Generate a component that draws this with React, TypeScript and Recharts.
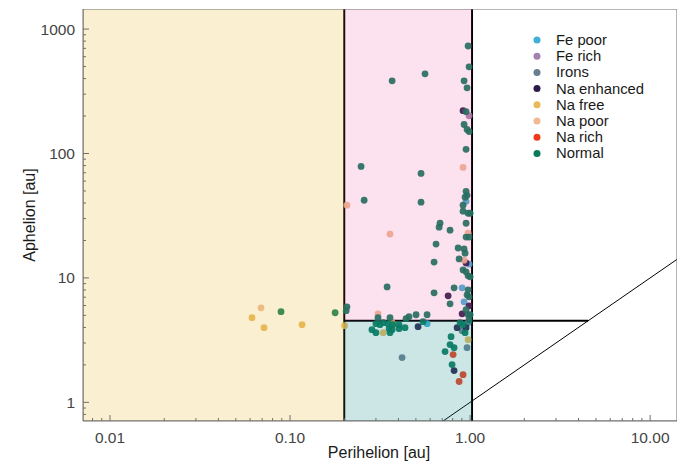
import React from 'react';
import { ScatterChart, Scatter, XAxis, YAxis, ReferenceArea, ReferenceLine, Legend } from 'recharts';

const categories = ['Fe poor', 'Fe rich', 'Irons', 'Na enhanced', 'Na free', 'Na poor', 'Na rich', 'Normal'];
const colors = ['#3fb0d6', '#a381ad', '#687d90', '#2a1b48', '#e8b85a', '#efb994', '#ee3a1c', '#0a7a5c'];

// [perihelion q, aphelion Q] in au
const fePoor = [[0.903, 8.32], [0.95, 41.3], [0.987, 12.9], [0.926, 6.43], [0.577, 4.29]];
const feRich = [[0.987, 201]];
const irons = [[0.975, 4.37], [0.903, 3.77], [0.962, 2.75], [0.419, 2.29]];
const naEnhanced = [[0.914, 221], [0.755, 7.18], [0.95, 13.2], [0.903, 5.15], [0.987, 5.97], [0.847, 3.98], [0.95, 3.98], [0.514, 4.06], [0.815, 1.8]];
const naFree = [[0.0615, 4.79], [0.0717, 3.98], [0.1166, 4.21], [0.201, 4.13], [0.369, 4.37], [0.329, 3.63], [0.975, 3.19]];
const naPoor = [[0.069, 5.75], [0.207, 38.4], [0.359, 22.5], [0.914, 77.3], [0.975, 22.9], [0.926, 13.9], [0.308, 5.15]];
const naRich = [[0.805, 2.42], [0.914, 1.67], [0.869, 1.47]];
const normal = [
  [0.0891, 5.35], [0.178, 5.25],
  [0.975, 731], [0.987, 497], [0.369, 384], [0.562, 437], [0.926, 384], [0.962, 337],
  [0.95, 217], [0.926, 171], [0.962, 156], [0.987, 150], [0.95, 108],
  [0.248, 78.7], [0.534, 69.2], [0.258, 42.1], [0.534, 40.6],
  [0.95, 49.7], [0.962, 46.1], [0.938, 44.5], [0.914, 38.4], [0.914, 34.4], [0.975, 33.1], [1.0, 33.1],
  [0.681, 27.5], [0.673, 25.6], [0.774, 24.2], [0.95, 27.5], [0.95, 21.3], [0.987, 21.3],
  [0.647, 18.7], [0.858, 17.4], [0.926, 17.1], [0.938, 15.8], [0.631, 13.4], [0.869, 14.2],
  [0.914, 11.6], [0.95, 11.2], [0.975, 10.4], [1.0, 10.2],
  [0.346, 8.47], [0.815, 8.32], [0.975, 8.02], [0.631, 7.59], [0.962, 7.31], [0.987, 7.05],
  [0.774, 6.19], [0.95, 5.55], [1.0, 5.06], [0.975, 5.06], [0.987, 4.6],
  [0.207, 5.86], [0.205, 5.45], [0.308, 4.79], [0.359, 4.79], [0.458, 4.88], [0.441, 4.7],
  [0.501, 5.06], [0.577, 5.06], [0.548, 4.45],
  [0.3, 4.29], [0.316, 4.21], [0.329, 4.37], [0.35, 4.29], [0.373, 4.21], [0.285, 3.84], [0.3, 3.63],
  [0.355, 3.91], [0.369, 3.84], [0.359, 3.63], [0.403, 3.91], [0.403, 4.21], [0.435, 3.98],
  [0.88, 4.37], [0.914, 4.21], [0.938, 3.63], [0.784, 3.37], [0.774, 2.91], [0.815, 2.75],
  [0.726, 2.56], [0.794, 2.01],
];
const seriesValues = [fePoor, feRich, irons, naEnhanced, naFree, naPoor, naRich, normal];

const xMajor = [0.01, 0.1, 1, 10];
const xMinor = [0.008, 0.009, 0.02, 0.03, 0.04, 0.05, 0.06, 0.07, 0.08, 0.09, 0.2, 0.3, 0.4, 0.5, 0.6, 0.7, 0.8, 0.9, 2, 3, 4, 5, 6, 7, 8, 9];
const xTickLabels = ['0.01', '0.10', '1.00', '10.00'];
const yMajor = [1, 10, 100, 1000];
const yMinor = [0.8, 0.9, 2, 3, 4, 5, 6, 7, 8, 9, 20, 30, 40, 50, 60, 70, 80, 90, 200, 300, 400, 500, 600, 700, 800, 900];
const yTickLabels = ['1', '10', '100', '1000'];

const X_DOMAIN = [0.00708, 14.1];
const Y_DOMAIN = [0.708, 1450];
const Q_MIN = 0.2;
const Q_EARTH = 1.025;
const Q_JUP = 4.53;

const FONT = '"Liberation Sans", Arial, sans-serif';
const AXIS_COLOR = '#6e6e6e';

const XTick = (props: any) => {
  const { x, y, payload } = props;
  const v = payload.value;
  const mi = xMajor.indexOf(v);
  const major = mi >= 0;
  return (
    <g>
      <line x1={x} x2={x} y1={y} y2={y - (major ? 6 : 3)} stroke={AXIS_COLOR} strokeWidth={1} />
      {major && (
        <text x={x} y={y + 22} textAnchor="middle" fontSize={15.5} fill="#444" fontFamily={FONT}>
          {xTickLabels[mi]}
        </text>
      )}
    </g>
  );
};

const YTick = (props: any) => {
  const { x, y, payload } = props;
  const v = payload.value;
  const mi = yMajor.indexOf(v);
  const major = mi >= 0;
  return (
    <g>
      <line x1={x} x2={x + (major ? 6 : 3)} y1={y} y2={y} stroke={AXIS_COLOR} strokeWidth={1} />
      {major && (
        <text x={x - 8} y={y + 5.5} textAnchor="end" fontSize={15.5} fill="#444" fontFamily={FONT}>
          {yTickLabels[mi]}
        </text>
      )}
    </g>
  );
};

const LegendBox = () => (
  <svg width={150} height={135} style={{ overflow: 'visible' }}>
    {categories.map((c, i) => (
      <g key={c}>
        <circle cx={9} cy={10 + i * 16.2} r={3.5} fill={colors[i]} />
        <text x={28} y={10 + i * 16.2 + 5} fontSize={14.8} fill="#1a1a1a" fontFamily={FONT}>{c}</text>
      </g>
    ))}
  </svg>
);

const makeShape = (color: string) => (p: any) => (
  <circle cx={p.cx} cy={p.cy} r={3.4} fill={color} fillOpacity={0.92} />
);

export default function App() {
  const data = seriesValues.map((s) => s.map(([q, Q]) => ({ q, Q })));
  return (
    <div style={{ position: 'absolute', left: 0, top: 0 }}>
      <ScatterChart width={691} height={465} margin={{ top: 9, right: 14, left: 0, bottom: 0 }}>
        <XAxis
          type="number"
          dataKey="q"
          scale="log"
          domain={X_DOMAIN}
          allowDataOverflow
          ticks={[...xMajor, ...xMinor]}
          interval={0}
          tick={<XTick />}
          tickLine={false}
          tickSize={0}
          tickMargin={0}
          height={44}
          axisLine={{ stroke: AXIS_COLOR }}
          label={{
            value: 'Perihelion [au]',
            content: () => (
              <text x={379} y={458} textAnchor="middle" fontSize={16} fill="#1a1a1a" fontFamily={FONT}>
                Perihelion [au]
              </text>
            ),
          }}
        />
        <YAxis
          type="number"
          dataKey="Q"
          scale="log"
          domain={Y_DOMAIN}
          allowDataOverflow
          ticks={[...yMajor, ...yMinor]}
          interval={0}
          tick={<YTick />}
          tickLine={false}
          tickSize={0}
          tickMargin={0}
          width={83}
          axisLine={{ stroke: AXIS_COLOR }}
          label={{
            value: 'Aphelion [au]',
            content: () => (
              <text x={0} y={0} transform="translate(35,215) rotate(-90)" textAnchor="middle" fontSize={16} fill="#1a1a1a" fontFamily={FONT}>
                Aphelion [au]
              </text>
            ),
          }}
        />
        <ReferenceLine x={Q_MIN} stroke="#000" strokeWidth={2} ifOverflow="hidden" zIndex={550} />
        <ReferenceLine x={Q_EARTH} stroke="#000" strokeWidth={2} ifOverflow="hidden" zIndex={550} />
        <ReferenceLine
          segment={[{ x: Q_MIN, y: Q_JUP }, { x: Q_JUP, y: Q_JUP }]}
          stroke="#000"
          strokeWidth={2}
          ifOverflow="hidden"
          zIndex={550}
        />
        <ReferenceLine
          segment={[{ x: X_DOMAIN[0], y: X_DOMAIN[0] }, { x: X_DOMAIN[1], y: X_DOMAIN[1] }]}
          stroke="#000"
          strokeWidth={1}
          ifOverflow="hidden"
          zIndex={550}
        />
        {categories.map((c, i) => (
          <Scatter
            key={c}
            name={c}
            data={data[i]}
            fill={colors[i]}
            shape={makeShape(colors[i])}
            isAnimationActive={false}
          />
        ))}
        <ReferenceArea x1={X_DOMAIN[0]} x2={Q_MIN} y1={Y_DOMAIN[0]} y2={Y_DOMAIN[1]} fill="#e6ab02" fillOpacity={0.18} stroke="none" ifOverflow="hidden" zIndex={650} />
        <ReferenceArea x1={Q_MIN} x2={Q_EARTH} y1={Q_JUP} y2={Y_DOMAIN[1]} fill="#e7298a" fillOpacity={0.14} stroke="none" ifOverflow="hidden" zIndex={650} />
        <ReferenceArea x1={Q_MIN} x2={Q_EARTH} y1={Y_DOMAIN[0]} y2={Q_JUP} fill="#008080" fillOpacity={0.2} stroke="none" ifOverflow="hidden" zIndex={650} />
        <ReferenceArea x1={X_DOMAIN[0]} x2={X_DOMAIN[1]} y1={Y_DOMAIN[0]} y2={Y_DOMAIN[1]} fill="none" stroke={AXIS_COLOR} strokeWidth={1} ifOverflow="hidden" zIndex={700} />
        <Legend
          layout="horizontal"
          verticalAlign="middle"
          align="center"
          content={() => <LegendBox />}
          wrapperStyle={{ position: 'absolute', top: 30, left: 528, width: 150, height: 135 }}
        />
      </ScatterChart>
    </div>
  );
}
